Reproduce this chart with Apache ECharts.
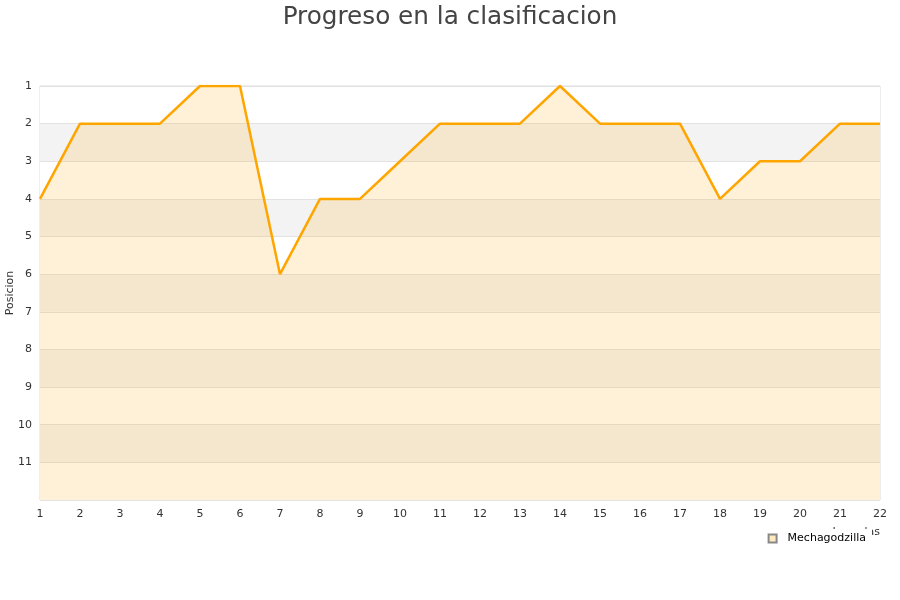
<!DOCTYPE html>
<html><head><meta charset="utf-8">
<script src="https://cdn.jsdelivr.net/npm/echarts@6/dist/echarts.min.js"></script>
<style>html,body{margin:0;padding:0;background:#fff}#c{width:900px;height:600px}</style>
</head><body><div id="c"></div>
<script>
const jornadas = ['1','2','3','4','5','6','7','8','9','10','11','12','13','14','15','16','17','18','19','20','21','22'];
const posiciones = [4,2,2,2,1,1,6,4,4,3,2,2,2,1,2,2,2,4,3,3,2,2];
const equipo = 'Mechagodzilla';
const titulo = 'Progreso en la clasificacion';

const chart = echarts.init(document.getElementById('c'));
chart.setOption({
  animation: false,
  title: { text: titulo, left: 'center', top: 0, textStyle: { fontFamily: 'DejaVu Sans', fontSize: 24.7, fontWeight: 'normal', color: '#444' } },
  grid: { left: 40, right: 20, top: 86, bottom: 100, show: true, borderColor: '#dcdcdc', borderWidth: 1, backgroundColor: 'transparent', containLabel: false, outerBoundsMode: 'none' },
  xAxis: {
    type: 'category', data: jornadas, boundaryGap: false,
    name: 'Jornadas', nameLocation: 'end', nameGap: 0, nameMoveOverlap: false,
    nameTextStyle: { fontFamily: 'DejaVu Sans', fontSize: 11, color: '#333', align: 'right', verticalAlign: 'top', padding: [27, 0, 0, 0] },
    axisLine: { show: false }, axisTick: { show: false },
    axisLabel: { fontFamily: 'DejaVu Sans', fontSize: 11, color: '#333', margin: 9 }
  },
  yAxis: {
    type: 'value', inverse: true, min: 1, max: 12, interval: 1,
    name: 'Posicion', nameLocation: 'middle', nameGap: 24, nameMoveOverlap: false,
    nameTextStyle: { fontFamily: 'DejaVu Sans', fontSize: 11, color: '#333' },
    axisLine: { show: false }, axisTick: { show: false },
    axisLabel: { fontFamily: 'DejaVu Sans', fontSize: 11, color: '#333', margin: 8, formatter: v => v >= 12 ? '' : v },
    splitLine: { show: true, lineStyle: { color: '#e2e2e2', width: 1 } },
    splitArea: { show: true, areaStyle: { color: ['#ffffff', '#f3f3f3'] } }
  },
  legend: {
    data: [{ name: equipo, icon: 'rect' }], right: 28, top: 529, itemWidth: 8, itemHeight: 8, itemGap: 8,
    backgroundColor: '#fff', padding: [4, 6, 8, 10],
    textStyle: { fontFamily: 'DejaVu Sans', fontSize: 11, color: '#000', padding: [0, 0, 0, 6] }
  },
  series: [{
    name: equipo, type: 'line', data: posiciones, symbol: 'none',
    lineStyle: { color: '#ffa500', width: 2.5 },
    itemStyle: { color: '#ffe9bf', borderColor: '#888', borderWidth: 1 },
    areaStyle: { color: 'rgba(255,180,45,0.27)', origin: 'end' }
  }]
});
</script></body></html>
